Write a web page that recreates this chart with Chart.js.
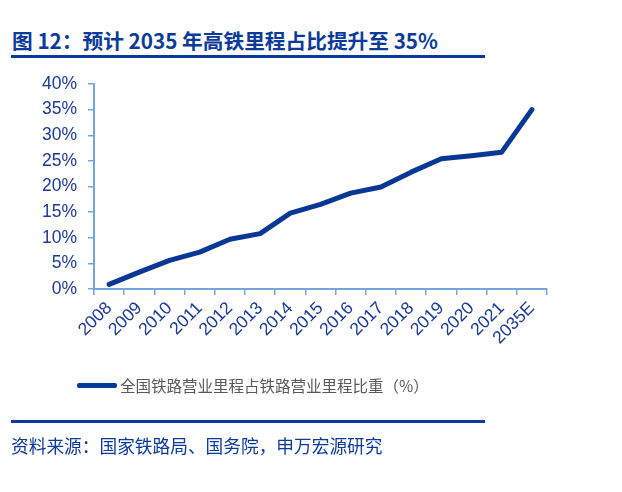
<!DOCTYPE html>
<html>
<head>
<meta charset="utf-8">
<script src="https://cdn.jsdelivr.net/npm/chart.js@4.4.1/dist/chart.umd.min.js"></script>
<style>
  html, body { margin: 0; padding: 0; background: #fff; }
  body { width: 622px; height: 492px; position: relative; overflow: hidden; font-family: "Noto Sans CJK SC", sans-serif; }
  .title { position: absolute; left: 12px; top: 25px; font-size: 20.7px; font-weight: 700; color: #0c3a99; line-height: 30px; white-space: nowrap; }
  .rule { position: absolute; left: 11px; width: 474px; height: 3px; background: #0c3a99; }
  .legend { position: absolute; left: 77px; top: 373px; height: 24px; display: flex; align-items: center; font-size: 15.5px; color: #595959; white-space: nowrap; }
  .legend .swatch { width: 40px; height: 5px; border-radius: 2px; background: #083796; margin-right: 3px; }
  .source { position: absolute; left: 11px; top: 432px; font-size: 17.7px; color: #0c3a99; line-height: 26px; white-space: nowrap; }
  #chart { position: absolute; left: 0; top: 0; }
</style>
</head>
<body>
<div class="title">图 12：预计 2035 年高铁里程占比提升至 35%</div>
<div class="rule" style="top:55px"></div>
<canvas id="chart" width="622" height="492"></canvas>
<div class="legend"><div class="swatch"></div><span>全国铁路营业里程占铁路营业里程比重（%）</span></div>
<div class="rule" style="top:420px"></div>
<div class="source">资料来源：国家铁路局、国务院，申万宏源研究</div>
<script>
const years = ['2008', '2009', '2010', '2011', '2012', '2013', '2014', '2015', '2016', '2017', '2018', '2019', '2020', '2021', '2035E'];
const hsrShare = [0.9, 3.3, 5.6, 7.2, 9.7, 10.8, 14.8, 16.5, 18.7, 19.9, 22.8, 25.4, 26.0, 26.7, 35.0];
const yTicks = [0, 5, 10, 15, 20, 25, 30, 35, 40];

const axisColor = '#75a5d9';
const labelColor = '#1a3a96';

new Chart(document.getElementById('chart').getContext('2d'), {
  type: 'line',
  data: {
    labels: years,
    datasets: [{
      label: '全国铁路营业里程占铁路营业里程比重（%）',
      data: hsrShare,
      borderColor: '#083796',
      backgroundColor: '#083796',
      borderWidth: 5,
      pointRadius: 0,
      tension: 0,
      borderCapStyle: 'round',
      borderJoinStyle: 'round',
    }],
  },
  options: {
    responsive: false,
    animation: false,
    layout: { padding: { left: 0, right: 75, top: 84, bottom: 0 } },
    plugins: { legend: { display: false }, tooltip: { enabled: false } },
    scales: {
      x: {
        offset: true,
        grid: { display: true, drawOnChartArea: false, offset: true, color: axisColor, tickLength: 6, lineWidth: 1.5 },
        border: { color: axisColor, width: 2 },
        ticks: {
          color: labelColor, autoSkip: false, maxRotation: 45, minRotation: 45, padding: 3,
          font: { family: 'Arial, "Liberation Sans", sans-serif', size: 17.5 },
        },
        afterFit: (scale) => { scale.height = 492 - 289; },
      },
      y: {
        min: 0,
        max: 40,
        afterBuildTicks: (scale) => { scale.ticks = yTicks.map((v) => ({ value: v })); },
        grid: { display: true, drawOnChartArea: false, color: axisColor, tickLength: 6, lineWidth: 1.5 },
        border: { color: axisColor, width: 2 },
        ticks: {
          color: labelColor, padding: 11,
          font: { family: 'Arial, "Liberation Sans", sans-serif', size: 17.5 },
          callback: (v) => v + '%',
        },
        afterFit: (scale) => { scale.width = 94; },
      },
    },
  },
});
</script>
</body>
</html>
